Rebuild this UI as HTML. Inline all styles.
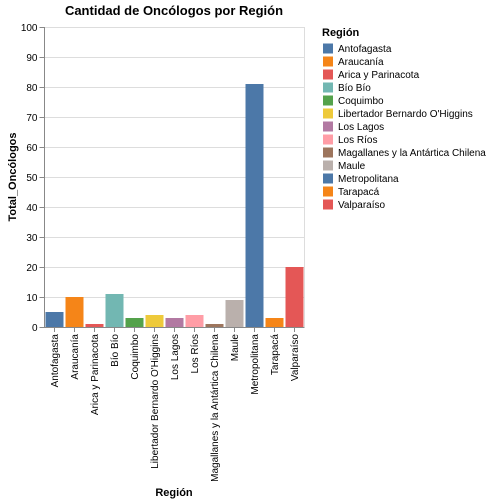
<!DOCTYPE html>
<html><head><meta charset="utf-8"><style>body{margin:0;background:#fff}svg{display:block;font-family:"Liberation Sans",Arial,sans-serif}</style></head>
<body>
<svg id="c" width="492" height="503"></svg>
<script>
const categories=["Antofagasta","Araucanía","Arica y Parinacota","Bío Bío","Coquimbo","Libertador Bernardo O'Higgins","Los Lagos","Los Ríos","Magallanes y la Antártica Chilena","Maule","Metropolitana","Tarapacá","Valparaíso"];
const values=[5,10,1,11,3,4,3,4,1,9,81,3,20];
const colors=["#4c78a8","#f58518","#e45756","#72b7b2","#54a24b","#eeca3b","#b279a2","#ff9da6","#9d755d","#bab0ac","#4c78a8","#f58518","#e45756"];
const yTicks=[0,10,20,30,40,50,60,70,80,90,100];
const NS="http://www.w3.org/2000/svg",svg=document.getElementById('c');
const X0=44.5,BW=20,Y0=327,YH=300;
const xs=i=>X0+i*BW, ys=v=>Y0-v/100*YH;
function el(t,a,txt){const e=document.createElementNS(NS,t);for(const k in a)e.setAttribute(k,a[k]);if(txt!=null)e.textContent=txt;svg.appendChild(e);return e;}
yTicks.forEach(t=>{
 const g=el('line',{x1:X0,x2:X0+BW*categories.length,y1:ys(t)+.5,y2:ys(t)+.5,stroke:'#ddd'});
 
 
 const tk=el('line',{x1:X0-5,x2:X0,y1:ys(t)+.5,y2:ys(t)+.5,stroke:'#888'});
 
 
 const l=el('text',{x:X0-7,y:ys(t)+4,'text-anchor':'end','font-size':10,fill:'#000'},t);
 
 
});
const rg=el('line',{x1:X0+BW*categories.length,x2:X0+BW*categories.length,y1:ys(100),y2:Y0,stroke:'#ddd'});


categories.forEach((c,i)=>{
 const r=el('rect',{x:xs(i)+1,y:ys(values[i]),width:BW-2,height:Y0-ys(values[i]),fill:colors[i]});
 
 
 const tk=el('line',{x1:xs(i)+BW/2,x2:xs(i)+BW/2,y1:Y0,y2:Y0+5,stroke:'#888'});
 
 
 const cx=xs(i)+BW/2+3.5,cy=Y0+7;
 const l=el('text',{x:cx,y:cy,transform:`rotate(-90 ${cx} ${cy})`,'text-anchor':'end','font-size':10,fill:'#000'},c);
 
 
});
const ya=el('line',{x1:X0,x2:X0,y1:ys(100),y2:Y0,stroke:'#888'});


const xa=el('line',{x1:X0,x2:X0+BW*categories.length,y1:Y0+.5,y2:Y0+.5,stroke:'#888'});


const tt=el('text',{x:174,y:15,'text-anchor':'middle','font-size':13,'font-weight':'bold'},'Cantidad de Oncólogos por Región');


const yt=el('text',{x:16,y:177,transform:'rotate(-90 16 177)','text-anchor':'middle','font-size':11,'font-weight':'bold'},'Total_Oncólogos');


const xt=el('text',{x:174,y:496,'text-anchor':'middle','font-size':11,'font-weight':'bold'},'Región');


const lt=el('text',{x:322,y:36,'font-size':11,'font-weight':'bold'},'Región');


categories.forEach((c,i)=>{
 const y=48.5+i*13;
 const s=el('rect',{x:323,y:y-5,width:10,height:10,fill:colors[i]});
 
 
 const t=el('text',{x:338,y:y+3.5,'font-size':10,fill:'#000'},c);
 
 
});
</script>
</body></html>
